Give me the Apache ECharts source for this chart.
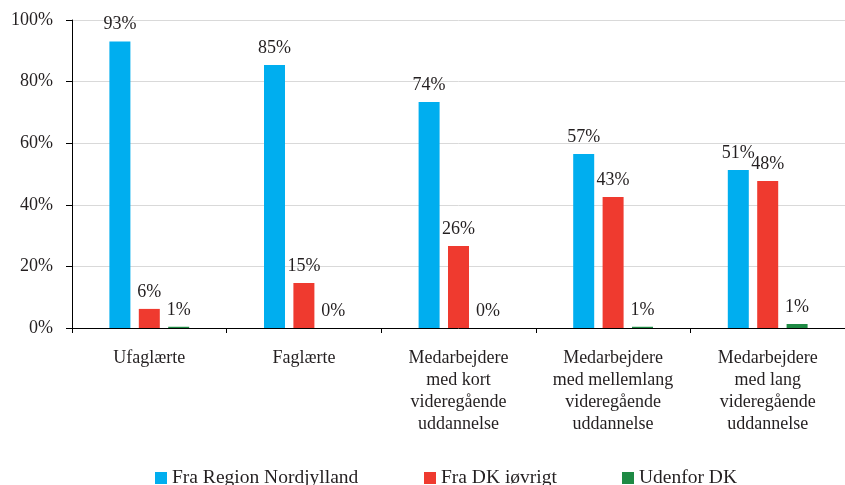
<!DOCTYPE html>
<html>
<head>
<meta charset="utf-8">
<script src="https://cdn.jsdelivr.net/npm/echarts@6/dist/echarts.min.js"></script>
<style>
  html, body { margin: 0; padding: 0; background: #fff; }
  #chart { width: 845px; height: 485px; }
</style>
</head>
<body>
<div id="chart"></div>
<script>
// kategorier og andele (%)
const categories = [
  'Ufaglærte',
  'Faglærte',
  'Medarbejdere\nmed kort\nvideregående\nuddannelse',
  'Medarbejdere\nmed mellemlang\nvideregående\nuddannelse',
  'Medarbejdere\nmed lang\nvideregående\nuddannelse',
]
const seriesNames = ['Fra Region Nordjylland', 'Fra DK iøvrigt', 'Udenfor DK']
const nordjylland = [93, 85.4, 73.4, 56.5, 51.3]
const dkOevrigt = [6.2, 14.6, 26.6, 42.5, 47.7]
const udenforDK = [0.4, 0, 0, 0.4, 1.3]
// tekst over søjlerne
const nordjyllandLabels = ['93%', '85%', '74%', '57%', '51%']
const dkOevrigtLabels = ['6%', '15%', '26%', '43%', '48%']
const udenforDKLabels = ['1%', '0%', '0%', '1%', '1%']
const yTicks = [0, 20, 40, 60, 80, 100]

const font = '"Liberation Serif", "DejaVu Serif", serif'
const textColor = '#231f20'
const colors = ['#00aeef', '#ef3a2f', '#1e8a44']

const chart = echarts.init(document.getElementById('chart'))

function barSeries(name, data, labels) {
  return {
    name,
    type: 'bar',
    data,
    barWidth: 21,
    barGap: '40%',
    label: {
      show: true,
      position: 'top',
      distance: 8,
      fontFamily: font,
      fontSize: 18,
      color: textColor,
      formatter: (p) => labels[p.dataIndex],
    },
  }
}

function legendAt(left, name) {
  return {
    left,
    top: 463,
    data: [name],
    icon: 'rect',
    itemWidth: 12,
    itemHeight: 12,
    itemGap: 0,
    selectedMode: false,
    textStyle: { fontFamily: font, fontSize: 19.5, color: textColor, padding: [2, 0, 0, 0] },
  }
}

const option = {
  animation: false,
  color: colors,
  textStyle: { fontFamily: font },
  legend: [
    legendAt(150, seriesNames[0]),
    legendAt(419, seriesNames[1]),
    legendAt(617, seriesNames[2]),
  ],
  grid: {
    left: 72,
    right: -8,
    top: 20,
    bottom: 157,
  },
  xAxis: {
    type: 'category',
    data: categories,
    axisLine: { lineStyle: { color: '#000', width: 1 } },
    axisTick: { show: true, length: 5, lineStyle: { color: '#000' } },
    axisLabel: {
      interval: 0,
      margin: 19,
      fontFamily: font,
      fontSize: 18,
      lineHeight: 22,
      color: textColor,
      align: 'center',
    },
  },
  yAxis: {
    type: 'value',
    min: yTicks[0],
    max: yTicks[yTicks.length - 1],
    interval: 20,
    axisLine: { show: true, lineStyle: { color: '#000', width: 1 } },
    axisTick: { show: true, length: 6, lineStyle: { color: '#000' } },
    splitLine: { show: true, lineStyle: { color: '#d9d9d9', width: 1 } },
    axisLabel: {
      margin: 19,
      fontFamily: font,
      fontSize: 18,
      color: textColor,
      formatter: (v) => v + '%',
    },
  },
  series: [
    barSeries(seriesNames[0], nordjylland, nordjyllandLabels),
    barSeries(seriesNames[1], dkOevrigt, dkOevrigtLabels),
    barSeries(seriesNames[2], udenforDK, udenforDKLabels),
  ],
}

chart.setOption(option)
</script>
</body>
</html>
